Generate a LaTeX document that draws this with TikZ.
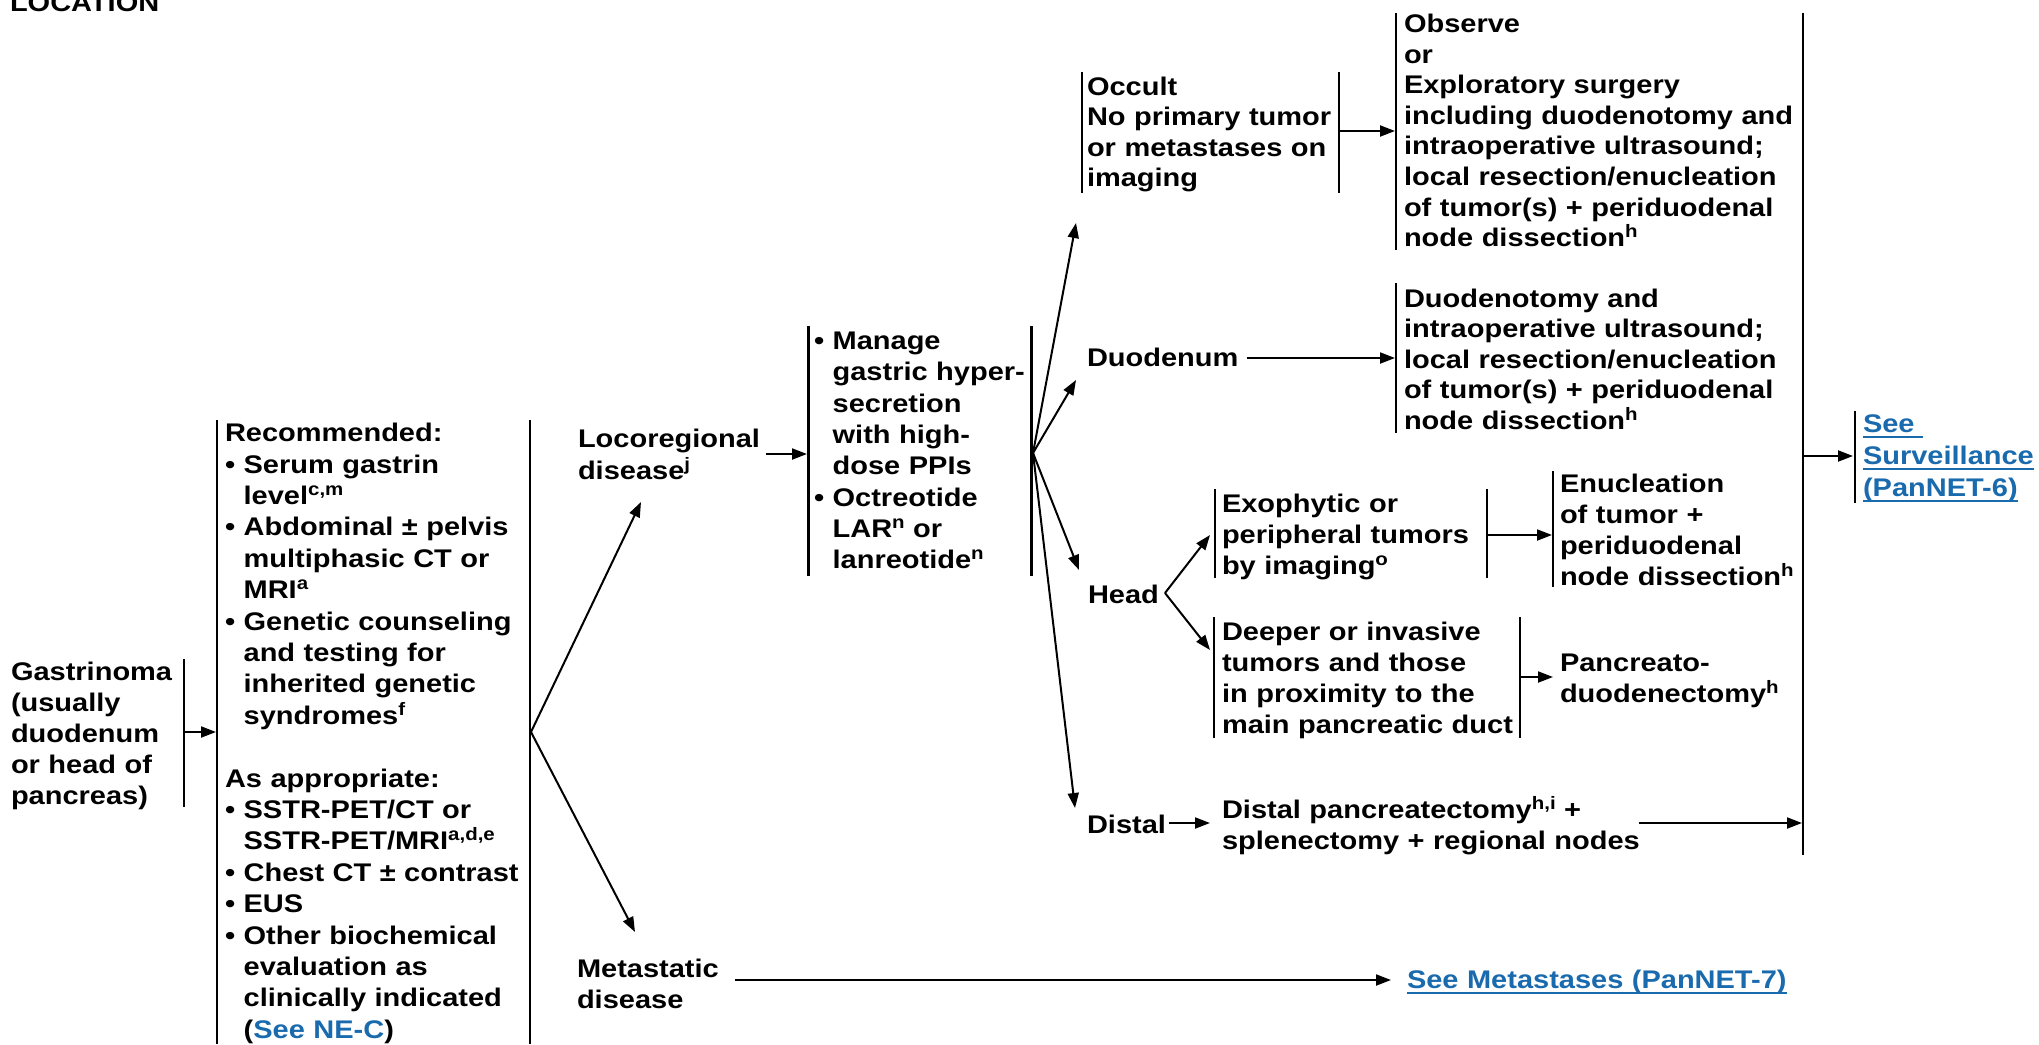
\documentclass[tikz,border=0pt]{standalone}
\usepackage{fontspec}
\setmainfont{Liberation Sans}[FakeStretch=1.137]
\usetikzlibrary{arrows.meta}
\definecolor{linkblue}{HTML}{1A6AAE}
\newcommand\sps[1]{\raisebox{9pt}{\fontsize{18}{18}\selectfont #1}}
\newcommand\lnk[1]{\leavevmode\setbox0\hbox{#1}\rlap{\rule[-6pt]{\wd0}{2pt}}\box0}
\newcommand\bl{\phantom{•\ }}
\begin{document}
\begin{tikzpicture}[x=1pt,y=-1pt,
  every node/.style={inner sep=0pt, outer sep=0pt, anchor=base west, align=left, text width=600pt},
  txt/.style={font=\bfseries\fontsize{25.5}{#1}\selectfont},
  txt/.default=31,
  bar/.style={line width=2.5pt},
  conn/.style={line width=2pt, -{Triangle[length=15pt,width=11pt]}}]
\useasboundingbox (0,0) rectangle (2039,1044);

% ---- text nodes
\node[txt] (loc) at (10,11) {LOCATION};
\node[txt] (gas) at (11,680) {Gastrinoma\\(usually\\duodenum\\or head of\\pancreas)};
\node[txt=31.4] (rec) at (225,441.7) {Recommended:\\• Serum gastrin\\\bl level\sps{c,m}\\• Abdominal ± pelvis\\\bl multiphasic CT or\\\bl MRI\sps{a}\\• Genetic counseling\\\bl and testing for\\\bl inherited genetic\\\bl syndromes\sps{f}\\[31.4pt]As appropriate:\\• SSTR-PET/CT or\\\bl SSTR-PET/MRI\sps{a,d,e}\\• Chest CT ± contrast\\• EUS\\• Other biochemical\\\bl evaluation as\\\bl clinically indicated\\\bl (\textcolor{linkblue}{See NE-C})};
\node[txt=32] (loco) at (578,447) {Locoregional\\disease\sps{j}};
\node[txt=31.3] (mgmt) at (814,349.6) {• Manage\\\bl gastric hyper-\\\bl secretion\\\bl with high-\\\bl dose PPIs\\• Octreotide\\\bl LAR\sps{n} or\\\bl lanreotide\sps{n}};
\node[txt=30.5] (occ) at (1087,95) {Occult\\No primary tumor\\or metastases on\\imaging};
\node[txt=30.6] (obs) at (1404,32.5) {Observe\\or\\Exploratory surgery\\including duodenotomy and\\intraoperative ultrasound;\\local resection/enucleation\\of tumor(s) + periduodenal\\node dissection\sps{h}};
\node[txt] (duo) at (1087,366.5) {Duodenum};
\node[txt=30.5] (duot) at (1404,307) {Duodenotomy and\\intraoperative ultrasound;\\local resection/enucleation\\of tumor(s) + periduodenal\\node dissection\sps{h}};
\node[txt] (head) at (1088,603) {Head};
\node[txt] (exo) at (1222,512) {Exophytic or\\peripheral tumors\\by imaging\sps{o}};
\node[txt] (enu) at (1560,492) {Enucleation\\of tumor +\\periduodenal\\node dissection\sps{h}};
\node[txt] (deep) at (1222,640) {Deeper or invasive\\tumors and those\\in proximity to the\\main pancreatic duct};
\node[txt] (panc) at (1560,671) {Pancreato-\\duodenectomy\sps{h}};
\node[txt] (dist) at (1087,833) {Distal};
\node[txt] (distp) at (1222,818) {Distal pancreatectomy\sps{h,i} +\\splenectomy + regional nodes};
\node[txt=32, text=linkblue] (surv) at (1863,432) {\lnk{See\ }\\\lnk{Surveillance}\\\lnk{(PanNET-6)}};
\node[txt] (meta) at (577,977) {Metastatic\\disease};
\node[txt, text=linkblue] (seem) at (1407,988) {\lnk{See Metastases (PanNET-7)}};

% ---- bars
\draw[bar] (184,659) -- (184,807);
\draw[bar] (217,420) -- (217,1044);
\draw[bar] (530,420) -- (530,1044);
\draw[bar] (808.6,326) -- (808.6,576);
\draw[bar] (1031.5,326) -- (1031.5,576);
\draw[bar] (1082,72) -- (1082,193);
\draw[bar] (1339,72) -- (1339,193);
\draw[bar] (1396,13) -- (1396,250);
\draw[bar] (1396,283) -- (1396,433);
\draw[bar] (1215,489) -- (1215,578);
\draw[bar] (1487,489) -- (1487,578);
\draw[bar] (1553,471) -- (1553,587);
\draw[bar] (1214,617) -- (1214,738);
\draw[bar] (1520,617) -- (1520,738);
\draw[bar] (1803,13) -- (1803,855);
\draw[bar] (1855,411) -- (1855,503);

% ---- connector end points
\coordinate (gasR) at (184,732);   \coordinate (recL) at (216,732);
\coordinate (recR) at (531,732);
\coordinate (locoT) at (641,502);  \coordinate (metaT) at (635,932);
\coordinate (locoA) at (766,454);  \coordinate (mgmtL) at (807,454);
\coordinate (mgmtR) at (1033,453);
\coordinate (occT) at (1076,223);  \coordinate (duoT) at (1076,380);
\coordinate (headT) at (1079,570); \coordinate (distT) at (1075,808);
\coordinate (occR) at (1339,131);  \coordinate (obsL) at (1395,131);
\coordinate (duoA) at (1247,358);  \coordinate (duotL) at (1395,358);
\coordinate (headV) at (1165,593);
\coordinate (exoT) at (1210,535);  \coordinate (deepT) at (1210,650);
\coordinate (exoR) at (1487,535);  \coordinate (enuL) at (1552,535);
\coordinate (deepR) at (1520,677); \coordinate (pancL) at (1553,677);
\coordinate (distA) at (1169,823); \coordinate (distpL) at (1210,823);
\coordinate (distpR) at (1639,823); \coordinate (bigL) at (1802,823);
\coordinate (bigR) at (1803,456);  \coordinate (survL) at (1853,456);
\coordinate (metaA) at (735,980);  \coordinate (seemL) at (1391,980);

% ---- connectors
\draw[conn] (gasR) -- (recL);
\draw[conn] (recR) -- (locoT);
\draw[conn] (recR) -- (metaT);
\draw[conn] (locoA) -- (mgmtL);
\draw[conn] (mgmtR) -- (occT);
\draw[conn] (mgmtR) -- (duoT);
\draw[conn] (mgmtR) -- (headT);
\draw[conn] (mgmtR) -- (distT);
\draw[conn] (occR) -- (obsL);
\draw[conn] (duoA) -- (duotL);
\draw[conn] (headV) -- (exoT);
\draw[conn] (headV) -- (deepT);
\draw[conn] (exoR) -- (enuL);
\draw[conn] (deepR) -- (pancL);
\draw[conn] (distA) -- (distpL);
\draw[conn] (distpR) -- (bigL);
\draw[conn] (bigR) -- (survL);
\draw[conn] (metaA) -- (seemL);
\end{tikzpicture}
\end{document}
